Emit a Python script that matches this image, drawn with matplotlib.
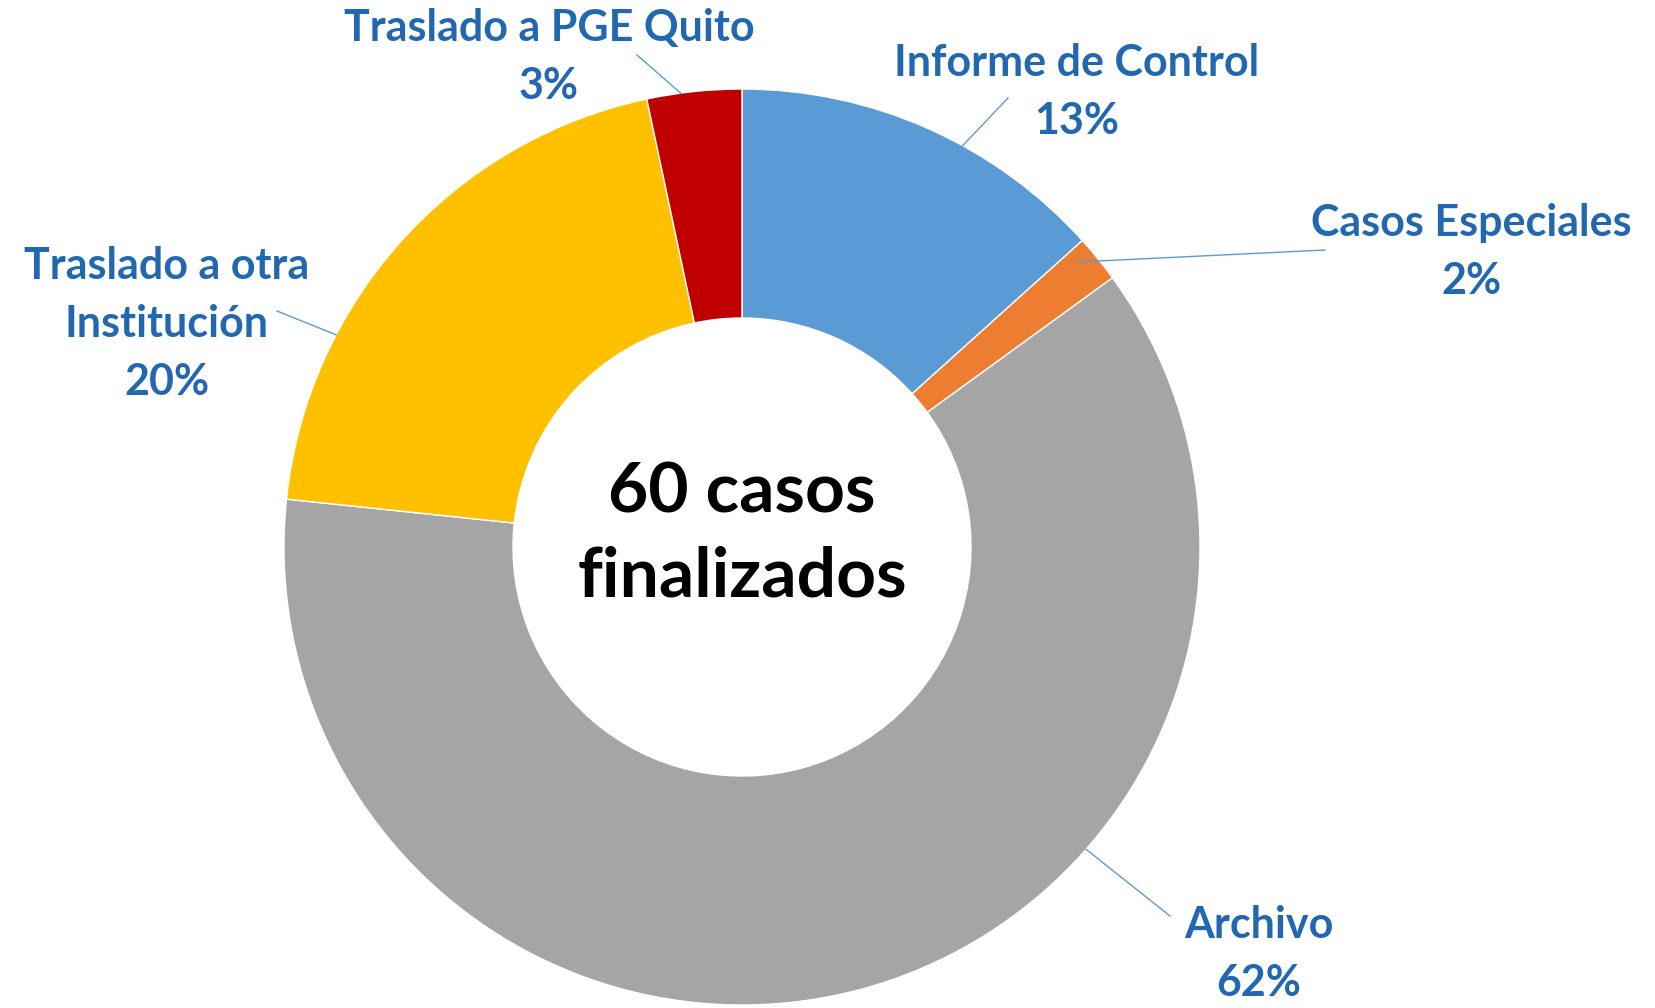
import numpy as np
import matplotlib
matplotlib.use('Agg')
import matplotlib.pyplot as plt

plt.rcParams['font.family'] = ['Lato', 'DejaVu Sans']

# casos finalizados por tipo (60 en total)
labels = ['Informe de Control', 'Casos Especiales', 'Archivo',
          'Traslado a otra\nInstitución', 'Traslado a PGE Quito']
casos = [8, 1, 37, 12, 2]
colors = ['#5B9BD5', '#ED7D31', '#A5A5A5', '#FFC000', '#C00000']
total = sum(casos)
center_text = '%d casos\nfinalizados' % total

# label layout (pixel coords, y from bottom) and leader start angle / radius fraction
W, H = 1655, 1008
cx, cy, R = 742, H - 547, 458
label_pos = [(1077, H - 92), (1471, H - 252), (1259, H - 954), (167, H - 324), (549, H - 57)]
line_end = [(1008, H - 98), (1325, H - 250), (1170, H - 916), (277, H - 311), (637, H - 55)]
line_ang = [61.2, 40.4, -41.3, 152.4, 97.7]
line_rf = [1.0, 0.96, 1.0, 1.0, 1.0]

fig = plt.figure(figsize=(W / 100, H / 100), dpi=100)
ax = fig.add_axes([0, 0, 1, 1])
ax.set_xlim(0, W)
ax.set_ylim(0, H)
ax.set_aspect('equal')
ax.axis('off')

wedges, _ = ax.pie(casos, colors=colors, startangle=90, counterclock=False,
                   center=(cx, cy), radius=R,
                   wedgeprops=dict(width=R * 0.5, edgecolor='white', linewidth=1))
ax.set_xlim(0, W)
ax.set_ylim(0, H)

txt_color = '#2268B0'
for i, lab in enumerate(labels):
    pct = '%d%%' % round(100.0 * casos[i] / total)
    ax.text(label_pos[i][0], label_pos[i][1], lab + '\n' + pct, ha='center', va='center',
            fontsize=31, fontweight='bold', color=txt_color, linespacing=1.55)
    a = np.deg2rad(line_ang[i])
    x0 = cx + R * line_rf[i] * np.cos(a)
    y0 = cy + R * line_rf[i] * np.sin(a)
    ax.plot([x0, line_end[i][0]], [y0, line_end[i][1]], color='#5B9BD5', lw=1)

ax.text(cx, cy + 12, center_text, ha='center', va='center', fontsize=50,
        fontweight='bold', color='black', linespacing=1.4)

fig.savefig('out.png', dpi=100)
